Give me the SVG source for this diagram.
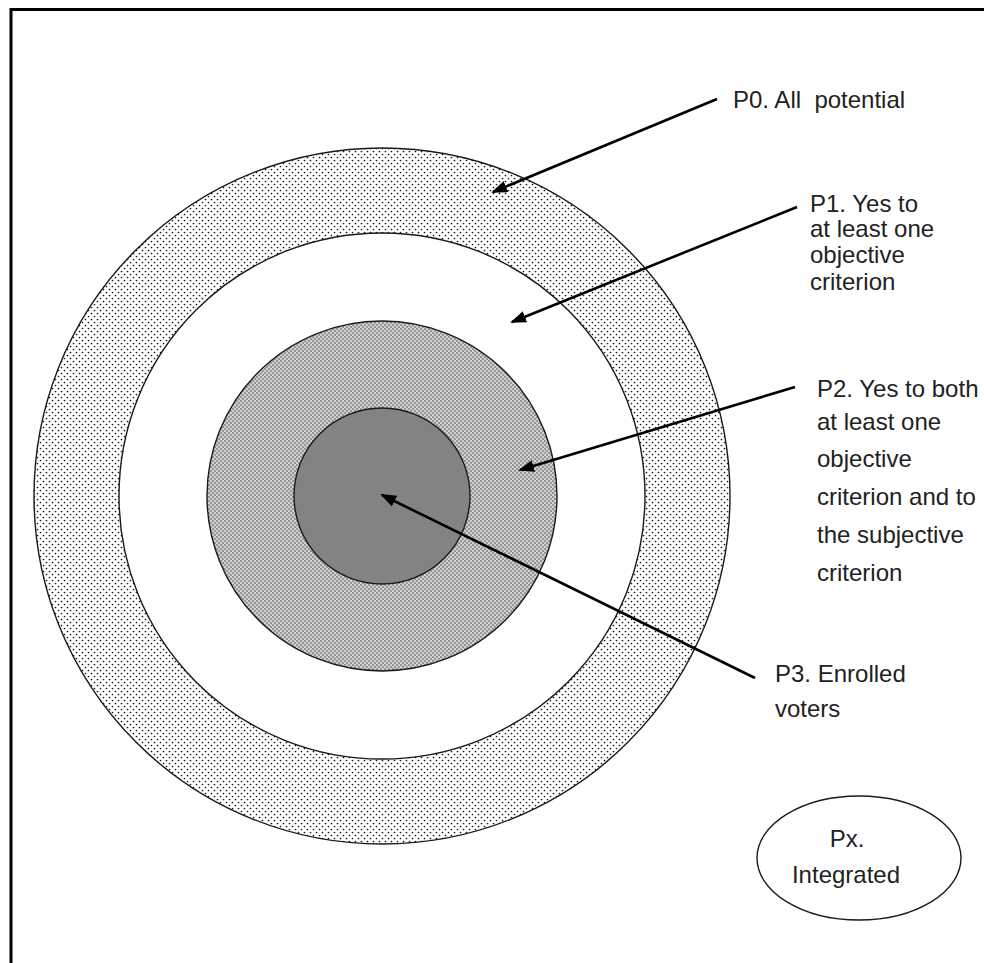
<svg xmlns="http://www.w3.org/2000/svg" width="984" height="963" viewBox="0 0 984 963">
<style>
.ring{stroke:#1a1a1a;stroke-width:1.4}
.lbl{font-family:"Liberation Sans",Arial,sans-serif;font-size:24px;fill:#222;white-space:pre}
.conn{stroke:#000;stroke-width:2.6;fill:none;marker-end:url(#ah)}
</style>
<defs>
<pattern id="dots" width="6" height="6" patternUnits="userSpaceOnUse">
<rect width="6" height="6" fill="#fff"/>
<circle cx="1.5" cy="1.5" r="0.85" fill="#111"/>
<circle cx="4.5" cy="4.5" r="0.85" fill="#111"/>
</pattern>
<pattern id="checks" width="4" height="4" patternUnits="userSpaceOnUse">
<rect width="4" height="4" fill="#d0d0d0"/>
<rect x="0" y="0" width="2" height="2" fill="#969696"/>
<rect x="2" y="2" width="2" height="2" fill="#969696"/>
</pattern>
<marker id="ah" markerUnits="userSpaceOnUse" markerWidth="16" markerHeight="12" refX="14" refY="6" orient="auto">
<path d="M0,0 L16,6 L0,12 Z" fill="#000"/>
</marker>
</defs>
<rect width="984" height="963" fill="#fff"/>
<path d="M11,963 V9.5 H984" fill="none" stroke="#000" stroke-width="3"/>
<g id="P0">
<circle class="ring" cx="382" cy="496" r="348" fill="url(#dots)"/>
</g>
<g id="P1">
<circle class="ring" cx="382" cy="496" r="263" fill="#fff"/>
</g>
<g id="P2">
<circle class="ring" cx="382" cy="496" r="175" fill="url(#checks)"/>
</g>
<g id="P3">
<circle class="ring" cx="382" cy="496" r="88" fill="#838383"/>
</g>
<g id="label-P0">
<text class="lbl" x="733" y="108">P0. All  potential</text>
</g>
<g id="label-P1">
<text class="lbl" x="810" y="212">P1. Yes to</text>
<text class="lbl" x="810" y="237">at least one</text>
<text class="lbl" x="810" y="263">objective</text>
<text class="lbl" x="810" y="290">criterion</text>
</g>
<g id="label-P2">
<text class="lbl" x="817" y="397">P2. Yes to both</text>
<text class="lbl" x="817" y="430">at least one</text>
<text class="lbl" x="817" y="467">objective</text>
<text class="lbl" x="817" y="505">criterion and to</text>
<text class="lbl" x="817" y="543">the subjective</text>
<text class="lbl" x="817" y="581">criterion</text>
</g>
<g id="label-P3">
<text class="lbl" x="775" y="682">P3. Enrolled</text>
<text class="lbl" x="775" y="717">voters</text>
</g>
<g id="Px">
<ellipse cx="859" cy="858" rx="102" ry="62" fill="#fff" stroke="#1a1a1a" stroke-width="1.4"/>
<text class="lbl" x="847" y="847" text-anchor="middle">Px.</text>
<text class="lbl" x="846" y="883" text-anchor="middle">Integrated</text>
</g>
<g id="connectors">
<line class="conn" x1="717" y1="99" x2="493" y2="192"/>
<line class="conn" x1="797" y1="207" x2="512" y2="322"/>
<line class="conn" x1="795" y1="387" x2="520" y2="470"/>
<line class="conn" x1="755" y1="678" x2="382" y2="495"/>
</g>
</svg>
